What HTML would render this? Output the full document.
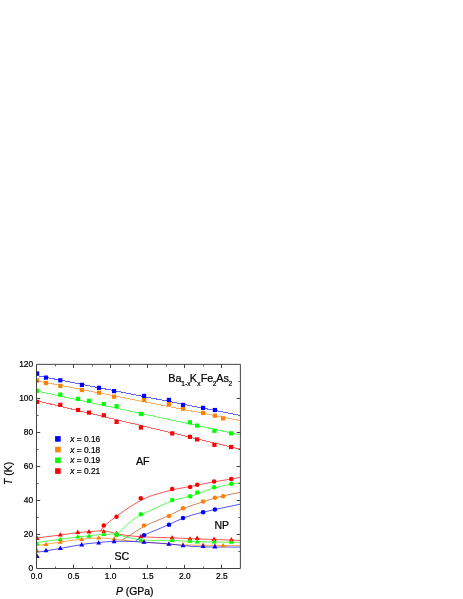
<!DOCTYPE html>
<html><head><meta charset="utf-8"><title>Phase diagram</title>
<style>
html,body{margin:0;padding:0;background:#fff;}
body{width:463px;height:599px;position:relative;overflow:hidden;font-family:"Liberation Sans",sans-serif;}
</style></head><body>
<svg width="463" height="599" viewBox="0 0 463 599" style="position:absolute;left:0;top:0;will-change:transform">
<defs><clipPath id="c"><rect x="36.0" y="364.0" width="205.0" height="205.0"/></clipPath></defs>
<g clip-path="url(#c)" fill="none" stroke-width="1" stroke-opacity="0.62" shape-rendering="crispEdges">
<path d="M36.50 400.66 L240.50 449.21" stroke="#ff0000"/>
<path d="M36.50 390.97 L240.50 434.89" stroke="#00ff00"/>
<path d="M36.50 380.68 L240.50 420.59" stroke="#ff8000"/>
<path d="M36.50 375.48 L240.50 415.47" stroke="#0000ff"/>
</g>
<g clip-path="url(#c)" fill="none" stroke-width="0.75" stroke-opacity="0.9">
<path d="M36.50 538.00 C44.43 537.00 52.37 536.00 60.30 535.00 C68.77 533.93 77.23 532.49 85.70 531.80 C88.80 531.55 91.90 531.35 95.00 531.20 C97.93 531.06 100.87 530.71 103.80 530.90 C108.07 531.18 112.33 532.77 116.60 533.60 C120.07 534.28 123.53 535.02 127.00 535.50 C129.90 535.90 132.80 536.15 135.70 536.40 C137.40 536.55 139.10 536.68 140.80 536.80 C151.23 537.55 161.67 537.38 172.10 537.80 C178.73 538.07 185.37 538.42 192.00 538.70 C208.17 539.38 224.33 539.83 240.50 540.40" stroke="#ff0000"/>
<path d="M36.50 542.60 C44.43 541.50 52.37 540.35 60.30 539.30 C68.77 538.18 77.23 537.01 85.70 536.10 C91.73 535.45 97.77 534.63 103.80 534.40 C108.07 534.23 112.33 533.68 116.60 534.40 C119.00 534.81 121.40 535.67 123.80 536.30 C125.87 536.84 127.93 537.44 130.00 537.90 C131.90 538.33 133.80 538.69 135.70 539.00 C137.40 539.28 139.10 539.49 140.80 539.70 C151.23 540.97 161.67 540.08 172.10 540.50 C178.73 540.77 185.37 541.23 192.00 541.50 C208.17 542.15 224.33 542.03 240.50 542.30" stroke="#00ff00"/>
<path d="M36.50 545.70 C44.43 544.47 52.37 543.12 60.30 542.00 C68.77 540.80 77.23 539.55 85.70 538.80 C90.03 538.42 94.37 537.88 98.70 537.90 C101.67 537.92 104.63 538.12 107.60 538.40 C109.77 538.61 111.93 538.95 114.10 539.20 C117.33 539.57 120.57 539.86 123.80 540.20 C127.77 540.62 131.73 541.12 135.70 541.50 C142.80 542.18 149.90 542.47 157.00 543.00 C164.57 543.57 172.13 544.47 179.70 544.80 C183.80 544.98 187.90 545.01 192.00 545.10 C208.17 545.44 224.33 545.37 240.50 545.50" stroke="#ff8000"/>
<path d="M36.50 552.40 C44.43 551.10 52.37 549.87 60.30 548.50 C68.77 547.04 77.23 545.02 85.70 543.90 C90.03 543.33 94.37 542.91 98.70 542.50 C103.83 542.02 108.97 541.49 114.10 541.30 C117.33 541.18 120.57 541.17 123.80 541.20 C127.77 541.24 131.73 541.35 135.70 541.60 C138.47 541.78 141.23 542.08 144.00 542.30 C152.30 542.96 160.60 543.04 168.90 543.90 C172.50 544.27 176.10 544.82 179.70 545.20 C183.80 545.63 187.90 545.99 192.00 546.30 C208.17 547.51 224.33 546.83 240.50 547.10" stroke="#0000ff"/>
<path d="M100.00 531.40 C101.27 529.80 102.53 528.02 103.80 526.60 C106.13 523.99 108.47 522.47 110.80 520.60 C112.70 519.08 114.60 517.71 116.50 516.30 C120.00 513.71 123.50 511.13 127.00 508.80 C130.23 506.65 133.47 504.64 136.70 502.80 C141.03 500.34 145.37 497.94 149.70 496.30 C152.17 495.36 154.63 494.73 157.10 494.00 C162.13 492.50 167.17 491.09 172.20 489.90 C178.70 488.37 185.20 487.45 191.70 486.20 C199.17 484.76 206.63 483.13 214.10 481.80 C219.80 480.79 225.50 480.00 231.20 479.00 C234.30 478.45 237.40 477.87 240.50 477.30" stroke="#ff0000"/>
<path d="M116.60 534.90 C117.40 534.13 118.20 533.40 119.00 532.60 C120.53 531.07 122.07 529.19 123.60 527.70 C125.07 526.27 126.53 525.05 128.00 523.80 C129.43 522.58 130.87 521.37 132.30 520.30 C133.77 519.20 135.23 518.25 136.70 517.30 C138.10 516.39 139.50 515.49 140.90 514.70 C143.80 513.07 146.70 512.11 149.60 510.80 C152.10 509.67 154.60 508.51 157.10 507.40 C162.13 505.16 167.17 502.71 172.20 500.90 C178.70 498.57 185.20 497.67 191.70 495.70 C199.17 493.44 206.63 490.05 214.10 488.00 C219.80 486.43 225.50 485.24 231.20 484.20 C234.30 483.63 237.40 483.20 240.50 482.70" stroke="#00ff00"/>
<path d="M122.40 539.80 C125.20 538.10 128.00 536.42 130.80 534.70 C135.20 531.99 139.60 528.76 144.00 526.40 C148.33 524.07 152.67 522.45 157.00 520.60 C161.00 518.89 165.00 517.52 169.00 515.70 C173.67 513.58 178.33 510.53 183.00 508.60 C185.90 507.40 188.80 506.49 191.70 505.50 C195.50 504.20 199.30 503.03 203.10 501.80 C207.03 500.53 210.97 499.11 214.90 498.00 C217.63 497.23 220.37 496.56 223.10 495.90 C228.90 494.51 234.70 493.50 240.50 492.30" stroke="#b04c14"/>
<path d="M135.50 541.00 C138.33 539.13 141.17 537.02 144.00 535.40 C148.33 532.92 152.67 531.60 157.00 529.70 C160.97 527.96 164.93 526.25 168.90 524.50 C173.60 522.43 178.30 520.00 183.00 518.20 C185.90 517.09 188.80 516.10 191.70 515.20 C195.50 514.02 199.30 513.14 203.10 512.20 C207.03 511.23 210.97 510.38 214.90 509.50 C223.43 507.60 231.97 505.90 240.50 504.10" stroke="#0000ff"/>
</g>
<g clip-path="url(#c)">
<rect x="35.00" y="399.80" width="4.2" height="4.2" fill="#ff0000"/>
<rect x="58.20" y="402.70" width="4.2" height="4.2" fill="#ff0000"/>
<rect x="76.00" y="407.90" width="4.2" height="4.2" fill="#ff0000"/>
<rect x="86.90" y="410.50" width="4.2" height="4.2" fill="#ff0000"/>
<rect x="101.70" y="413.20" width="4.2" height="4.2" fill="#ff0000"/>
<rect x="114.50" y="419.80" width="4.2" height="4.2" fill="#ff0000"/>
<rect x="138.80" y="425.40" width="4.2" height="4.2" fill="#ff0000"/>
<rect x="170.10" y="431.30" width="4.2" height="4.2" fill="#ff0000"/>
<rect x="187.80" y="434.70" width="4.2" height="4.2" fill="#ff0000"/>
<rect x="195.00" y="437.30" width="4.2" height="4.2" fill="#ff0000"/>
<rect x="212.30" y="442.70" width="4.2" height="4.2" fill="#ff0000"/>
<rect x="229.00" y="444.90" width="4.2" height="4.2" fill="#ff0000"/>
<circle cx="103.80" cy="525.50" r="2.25" fill="#ff0000"/>
<circle cx="116.50" cy="516.80" r="2.25" fill="#ff0000"/>
<circle cx="140.80" cy="498.20" r="2.25" fill="#ff0000"/>
<circle cx="172.20" cy="489.00" r="2.25" fill="#ff0000"/>
<circle cx="190.10" cy="486.90" r="2.25" fill="#ff0000"/>
<circle cx="197.20" cy="484.80" r="2.25" fill="#ff0000"/>
<circle cx="214.10" cy="481.60" r="2.25" fill="#ff0000"/>
<circle cx="231.20" cy="479.00" r="2.25" fill="#ff0000"/>
<path d="M37.10 535.70 L39.60 540.10 L34.60 540.10 Z" fill="#ff0000"/>
<path d="M60.30 532.20 L62.80 536.60 L57.80 536.60 Z" fill="#ff0000"/>
<path d="M77.80 529.50 L80.30 533.90 L75.30 533.90 Z" fill="#ff0000"/>
<path d="M89.00 529.10 L91.50 533.50 L86.50 533.50 Z" fill="#ff0000"/>
<path d="M103.80 528.90 L106.30 533.30 L101.30 533.30 Z" fill="#ff0000"/>
<path d="M116.60 530.80 L119.10 535.20 L114.10 535.20 Z" fill="#ff0000"/>
<path d="M140.80 533.80 L143.30 538.20 L138.30 538.20 Z" fill="#ff0000"/>
<path d="M172.10 535.10 L174.60 539.50 L169.60 539.50 Z" fill="#ff0000"/>
<path d="M190.00 536.20 L192.50 540.60 L187.50 540.60 Z" fill="#ff0000"/>
<path d="M197.20 535.60 L199.70 540.00 L194.70 540.00 Z" fill="#ff0000"/>
<path d="M214.10 536.60 L216.60 541.00 L211.60 541.00 Z" fill="#ff0000"/>
<path d="M231.40 537.00 L233.90 541.40 L228.90 541.40 Z" fill="#ff0000"/>
<rect x="35.00" y="388.70" width="4.2" height="4.2" fill="#00ff00"/>
<rect x="58.20" y="392.50" width="4.2" height="4.2" fill="#00ff00"/>
<rect x="76.00" y="396.80" width="4.2" height="4.2" fill="#00ff00"/>
<rect x="86.90" y="398.70" width="4.2" height="4.2" fill="#00ff00"/>
<rect x="101.70" y="401.90" width="4.2" height="4.2" fill="#00ff00"/>
<rect x="114.50" y="404.10" width="4.2" height="4.2" fill="#00ff00"/>
<rect x="138.80" y="411.90" width="4.2" height="4.2" fill="#00ff00"/>
<rect x="187.80" y="420.20" width="4.2" height="4.2" fill="#00ff00"/>
<rect x="195.00" y="423.50" width="4.2" height="4.2" fill="#00ff00"/>
<rect x="212.30" y="428.70" width="4.2" height="4.2" fill="#00ff00"/>
<rect x="229.00" y="431.20" width="4.2" height="4.2" fill="#00ff00"/>
<circle cx="116.60" cy="534.90" r="2.25" fill="#00ff00"/>
<circle cx="140.80" cy="514.30" r="2.25" fill="#00ff00"/>
<circle cx="172.20" cy="500.10" r="2.25" fill="#00ff00"/>
<circle cx="190.10" cy="496.30" r="2.25" fill="#00ff00"/>
<circle cx="197.20" cy="492.50" r="2.25" fill="#00ff00"/>
<circle cx="214.10" cy="487.30" r="2.25" fill="#00ff00"/>
<circle cx="231.20" cy="483.80" r="2.25" fill="#00ff00"/>
<path d="M37.10 540.90 L39.60 545.30 L34.60 545.30 Z" fill="#00ff00"/>
<path d="M60.30 536.70 L62.80 541.10 L57.80 541.10 Z" fill="#00ff00"/>
<path d="M77.80 534.00 L80.30 538.40 L75.30 538.40 Z" fill="#00ff00"/>
<path d="M89.00 533.40 L91.50 537.80 L86.50 537.80 Z" fill="#00ff00"/>
<path d="M103.80 531.60 L106.30 536.00 L101.30 536.00 Z" fill="#00ff00"/>
<path d="M116.60 531.40 L119.10 535.80 L114.10 535.80 Z" fill="#00ff00"/>
<path d="M140.80 537.40 L143.30 541.80 L138.30 541.80 Z" fill="#00ff00"/>
<path d="M172.10 537.70 L174.60 542.10 L169.60 542.10 Z" fill="#00ff00"/>
<path d="M190.00 538.30 L192.50 542.70 L187.50 542.70 Z" fill="#00ff00"/>
<path d="M197.20 539.00 L199.70 543.40 L194.70 543.40 Z" fill="#00ff00"/>
<path d="M214.10 539.10 L216.60 543.50 L211.60 543.50 Z" fill="#00ff00"/>
<path d="M231.40 539.40 L233.90 543.80 L228.90 543.80 Z" fill="#00ff00"/>
<rect x="35.00" y="378.40" width="4.2" height="4.2" fill="#ff8000"/>
<rect x="43.90" y="380.90" width="4.2" height="4.2" fill="#ff8000"/>
<rect x="58.20" y="383.80" width="4.2" height="4.2" fill="#ff8000"/>
<rect x="79.80" y="387.90" width="4.2" height="4.2" fill="#ff8000"/>
<rect x="96.90" y="390.60" width="4.2" height="4.2" fill="#ff8000"/>
<rect x="112.00" y="394.60" width="4.2" height="4.2" fill="#ff8000"/>
<rect x="142.00" y="397.80" width="4.2" height="4.2" fill="#ff8000"/>
<rect x="166.80" y="401.90" width="4.2" height="4.2" fill="#ff8000"/>
<rect x="180.90" y="406.60" width="4.2" height="4.2" fill="#ff8000"/>
<rect x="201.00" y="410.90" width="4.2" height="4.2" fill="#ff8000"/>
<rect x="212.80" y="413.60" width="4.2" height="4.2" fill="#ff8000"/>
<rect x="221.00" y="416.30" width="4.2" height="4.2" fill="#ff8000"/>
<circle cx="144.00" cy="525.60" r="2.25" fill="#ff8000"/>
<circle cx="169.00" cy="516.00" r="2.25" fill="#ff8000"/>
<circle cx="183.00" cy="508.20" r="2.25" fill="#ff8000"/>
<circle cx="203.10" cy="501.60" r="2.25" fill="#ff8000"/>
<circle cx="214.90" cy="497.80" r="2.25" fill="#ff8000"/>
<circle cx="223.10" cy="496.20" r="2.25" fill="#ff8000"/>
<path d="M37.10 547.90 L39.60 552.30 L34.60 552.30 Z" fill="#ff8000"/>
<path d="M46.00 541.70 L48.50 546.10 L43.50 546.10 Z" fill="#ff8000"/>
<path d="M60.30 539.30 L62.80 543.70 L57.80 543.70 Z" fill="#ff8000"/>
<path d="M81.70 536.60 L84.20 541.00 L79.20 541.00 Z" fill="#ff8000"/>
<path d="M98.70 535.20 L101.20 539.60 L96.20 539.60 Z" fill="#ff8000"/>
<path d="M114.10 536.00 L116.60 540.40 L111.60 540.40 Z" fill="#ff8000"/>
<path d="M144.00 539.10 L146.50 543.50 L141.50 543.50 Z" fill="#ff8000"/>
<path d="M168.90 541.20 L171.40 545.60 L166.40 545.60 Z" fill="#ff8000"/>
<path d="M183.00 542.10 L185.50 546.50 L180.50 546.50 Z" fill="#ff8000"/>
<path d="M203.10 542.20 L205.60 546.60 L200.60 546.60 Z" fill="#ff8000"/>
<path d="M214.90 542.70 L217.40 547.10 L212.40 547.10 Z" fill="#ff8000"/>
<path d="M223.10 542.90 L225.60 547.30 L220.60 547.30 Z" fill="#ff8000"/>
<rect x="35.00" y="371.40" width="4.2" height="4.2" fill="#0000ff"/>
<rect x="43.90" y="375.50" width="4.2" height="4.2" fill="#0000ff"/>
<rect x="58.20" y="378.20" width="4.2" height="4.2" fill="#0000ff"/>
<rect x="79.80" y="382.80" width="4.2" height="4.2" fill="#0000ff"/>
<rect x="96.90" y="385.70" width="4.2" height="4.2" fill="#0000ff"/>
<rect x="112.00" y="389.00" width="4.2" height="4.2" fill="#0000ff"/>
<rect x="142.00" y="393.80" width="4.2" height="4.2" fill="#0000ff"/>
<rect x="166.80" y="397.80" width="4.2" height="4.2" fill="#0000ff"/>
<rect x="180.90" y="402.80" width="4.2" height="4.2" fill="#0000ff"/>
<rect x="201.00" y="405.80" width="4.2" height="4.2" fill="#0000ff"/>
<rect x="212.80" y="407.90" width="4.2" height="4.2" fill="#0000ff"/>
<circle cx="144.00" cy="535.30" r="2.25" fill="#0000ff"/>
<circle cx="169.00" cy="524.70" r="2.25" fill="#0000ff"/>
<circle cx="183.00" cy="517.90" r="2.25" fill="#0000ff"/>
<circle cx="203.10" cy="512.30" r="2.25" fill="#0000ff"/>
<circle cx="214.90" cy="509.60" r="2.25" fill="#0000ff"/>
<path d="M37.10 553.60 L39.60 558.00 L34.60 558.00 Z" fill="#0000ff"/>
<path d="M46.00 547.80 L48.50 552.20 L43.50 552.20 Z" fill="#0000ff"/>
<path d="M60.30 545.60 L62.80 550.00 L57.80 550.00 Z" fill="#0000ff"/>
<path d="M81.70 542.00 L84.20 546.40 L79.20 546.40 Z" fill="#0000ff"/>
<path d="M98.70 540.20 L101.20 544.60 L96.20 544.60 Z" fill="#0000ff"/>
<path d="M114.10 538.80 L116.60 543.20 L111.60 543.20 Z" fill="#0000ff"/>
<path d="M144.00 539.40 L146.50 543.80 L141.50 543.80 Z" fill="#0000ff"/>
<path d="M168.90 541.40 L171.40 545.80 L166.40 545.80 Z" fill="#0000ff"/>
<path d="M183.00 542.90 L185.50 547.30 L180.50 547.30 Z" fill="#0000ff"/>
<path d="M203.10 543.70 L205.60 548.10 L200.60 548.10 Z" fill="#0000ff"/>
<path d="M214.90 544.10 L217.40 548.50 L212.40 548.50 Z" fill="#0000ff"/>
</g>
<g stroke="#383838" stroke-width="0.95" fill="none">
<path d="M36.50 364.35 V568.50 H240.38 V364.35 Z"/>
<path d="M73.50 568.50 v-3.70 M73.50 364.35 v3.70 M110.50 568.50 v-3.70 M110.50 364.35 v3.70 M147.50 568.50 v-3.70 M147.50 364.35 v3.70 M184.50 568.50 v-3.70 M184.50 364.35 v3.70 M221.50 568.50 v-3.70 M221.50 364.35 v3.70 M36.50 534.50 h3.70 M240.38 534.50 h-3.70 M36.50 500.50 h3.70 M240.38 500.50 h-3.70 M36.50 466.50 h3.70 M240.38 466.50 h-3.70 M36.50 432.50 h3.70 M240.38 432.50 h-3.70 M36.50 398.50 h3.70 M240.38 398.50 h-3.70 "/>
<path d="M55.50 568.50 v-2.10 M55.50 364.35 v2.10 M92.50 568.50 v-2.10 M92.50 364.35 v2.10 M129.50 568.50 v-2.10 M129.50 364.35 v2.10 M166.50 568.50 v-2.10 M166.50 364.35 v2.10 M203.50 568.50 v-2.10 M203.50 364.35 v2.10 M36.50 551.50 h2.10 M240.38 551.50 h-2.10 M36.50 517.50 h2.10 M240.38 517.50 h-2.10 M36.50 483.50 h2.10 M240.38 483.50 h-2.10 M36.50 449.50 h2.10 M240.38 449.50 h-2.10 M36.50 415.50 h2.10 M240.38 415.50 h-2.10 M36.50 381.50 h2.10 M240.38 381.50 h-2.10 " stroke="#5a5a5a"/>
</g>
<g font-family="Liberation Sans, sans-serif" font-size="8.4" fill="#000" stroke="#000" stroke-width="0.22">
<text transform="translate(33.2,571.00) scale(1,1.1)" text-anchor="end">0</text>
<text transform="translate(33.2,537.00) scale(1,1.1)" text-anchor="end">20</text>
<text transform="translate(33.2,503.00) scale(1,1.1)" text-anchor="end">40</text>
<text transform="translate(33.2,469.00) scale(1,1.1)" text-anchor="end">60</text>
<text transform="translate(33.2,435.00) scale(1,1.1)" text-anchor="end">80</text>
<text transform="translate(33.2,401.00) scale(1,1.1)" text-anchor="end">100</text>
<text transform="translate(33.2,367.00) scale(1,1.1)" text-anchor="end">120</text>
<text transform="translate(36.50,578.6) scale(1,1.1)" text-anchor="middle">0.0</text>
<text transform="translate(73.59,578.6) scale(1,1.1)" text-anchor="middle">0.5</text>
<text transform="translate(110.68,578.6) scale(1,1.1)" text-anchor="middle">1.0</text>
<text transform="translate(147.77,578.6) scale(1,1.1)" text-anchor="middle">1.5</text>
<text transform="translate(184.86,578.6) scale(1,1.1)" text-anchor="middle">2.0</text>
<text transform="translate(221.95,578.6) scale(1,1.1)" text-anchor="middle">2.5</text>
</g>
<g font-family="Liberation Sans, sans-serif" fill="#000" stroke="#000" stroke-width="0.22">
<text x="134.7" y="595.4" font-size="10.4" text-anchor="middle"><tspan font-style="italic">P</tspan> (GPa)</text>
<text transform="translate(11.7,473.4) rotate(-90)" font-size="10.4" text-anchor="middle"><tspan font-style="italic">T</tspan> (K)</text>
<text x="121.9" y="560.3" font-size="10.6" text-anchor="middle">SC</text>
<text x="221.8" y="528.6" font-size="10.5" text-anchor="middle">NP</text>
<text x="142.8" y="465.3" font-size="10.7" text-anchor="middle">AF</text>
<text x="168.30" y="381.5" font-size="10.8">Ba</text>
<text x="181.30" y="386.2" font-size="6.6">1-x</text>
<text x="189.80" y="381.5" font-size="10.8">K</text>
<text x="197.30" y="386.2" font-size="6.6">x</text>
<text x="200.70" y="381.5" font-size="10.8">Fe</text>
<text x="212.80" y="386.2" font-size="6.6">2</text>
<text x="216.30" y="381.5" font-size="10.8">As</text>
<text x="228.60" y="386.2" font-size="6.6">2</text>
<rect x="55.10" y="436.10" width="5.6" height="5.6" fill="#0000ff" stroke="none"/>
<text x="70.3" y="441.80" font-size="8.35"><tspan font-style="italic">x</tspan> = 0.16</text>
<rect x="55.10" y="446.82" width="5.6" height="5.6" fill="#ff8000" stroke="none"/>
<text x="70.3" y="452.52" font-size="8.35"><tspan font-style="italic">x</tspan> = 0.18</text>
<rect x="55.10" y="457.54" width="5.6" height="5.6" fill="#00ff00" stroke="none"/>
<text x="70.3" y="463.24" font-size="8.35"><tspan font-style="italic">x</tspan> = 0.19</text>
<rect x="55.10" y="468.26" width="5.6" height="5.6" fill="#ff0000" stroke="none"/>
<text x="70.3" y="473.96" font-size="8.35"><tspan font-style="italic">x</tspan> = 0.21</text>
</g>
</svg>
</body></html>
